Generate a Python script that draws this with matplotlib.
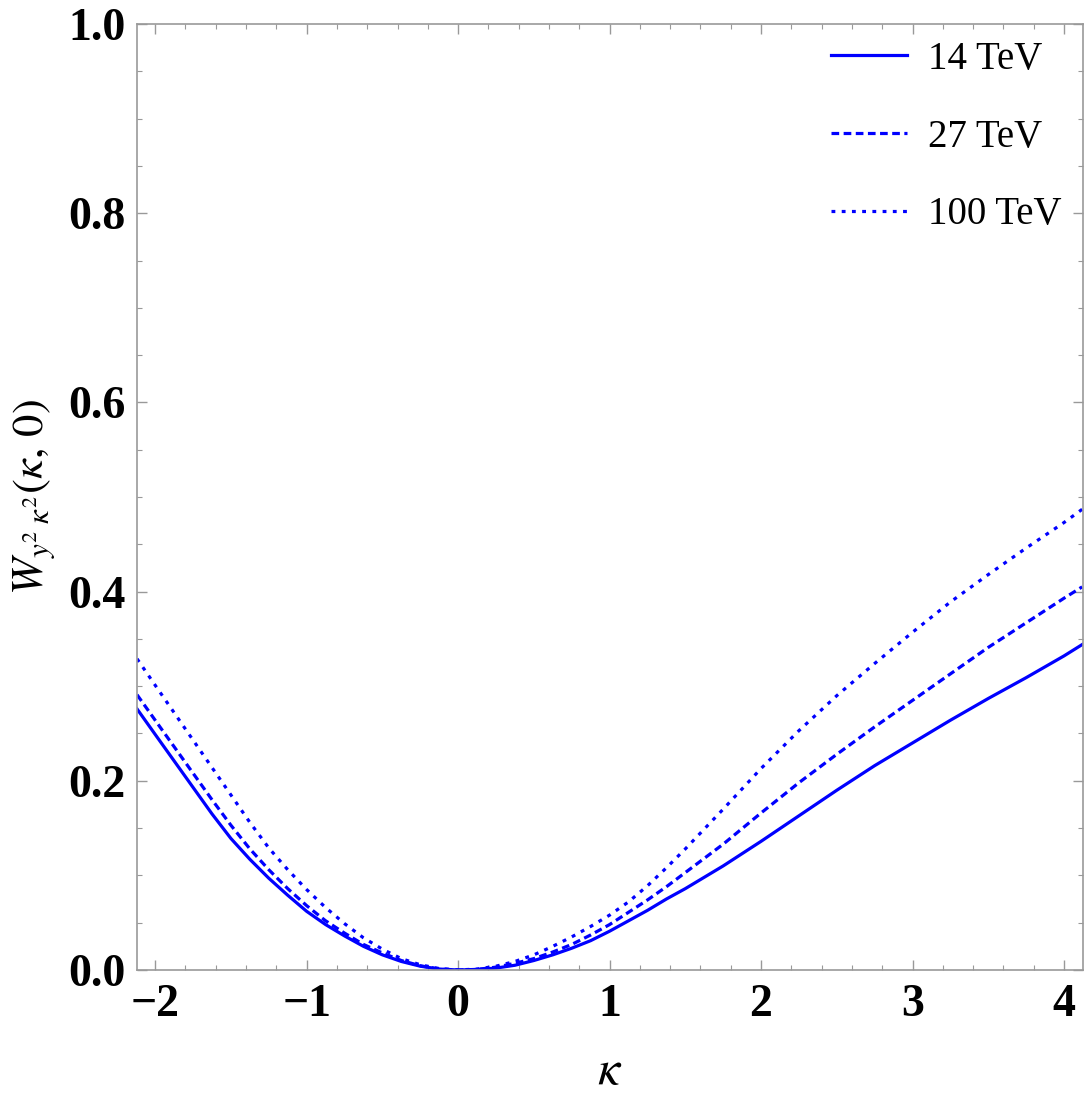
import numpy as np
import matplotlib
matplotlib.use("Agg")
import matplotlib.pyplot as plt
from matplotlib.ticker import MultipleLocator, FormatStrFormatter

plt.rcParams['font.family'] = ['Liberation Serif', 'DejaVu Serif']
plt.rcParams['mathtext.fontset'] = 'stix'

# values
kappa = [-2.12, -2.0, -1.875, -1.75, -1.625, -1.5, -1.375, -1.25, -1.125, -1.0,
         -0.875, -0.75, -0.625, -0.5, -0.375, -0.25, -0.125, 0.0,
         0.125, 0.25, 0.375, 0.5, 0.625, 0.75, 0.875, 1.0, 1.125, 1.25, 1.375,
         1.5, 1.625, 1.75, 2.0, 2.25, 2.5, 2.75, 3.0, 3.25, 3.5, 3.75, 4.0, 4.12]
w_14 = [0.276, 0.249, 0.221, 0.193, 0.165, 0.139, 0.117, 0.097, 0.079, 0.062,
        0.048, 0.036, 0.025, 0.016, 0.009, 0.004, 0.001, 0.0,
        0.0005, 0.002, 0.005, 0.010, 0.016, 0.023, 0.031, 0.041, 0.052, 0.063, 0.075,
        0.086, 0.098, 0.110, 0.136, 0.163, 0.190, 0.216, 0.240, 0.264, 0.287, 0.309, 0.332, 0.344]
w_27 = [0.291, 0.264, 0.236, 0.208, 0.180, 0.153, 0.128, 0.106, 0.086, 0.068,
        0.052, 0.039, 0.027, 0.018, 0.010, 0.0045, 0.001, 0.0,
        0.0006, 0.003, 0.007, 0.012, 0.019, 0.027, 0.037, 0.048, 0.061, 0.074, 0.088,
        0.103, 0.118, 0.133, 0.166, 0.198, 0.228, 0.257, 0.285, 0.313, 0.341, 0.367, 0.393, 0.405]
w_100 = [0.329, 0.301, 0.272, 0.243, 0.214, 0.185, 0.156, 0.129, 0.106, 0.085,
         0.066, 0.049, 0.034, 0.022, 0.012, 0.0055, 0.0015, 0.0,
         0.001, 0.004, 0.009, 0.016, 0.025, 0.035, 0.046, 0.058, 0.072, 0.089, 0.108,
         0.128, 0.149, 0.170, 0.213, 0.253, 0.290, 0.324, 0.357, 0.389, 0.418, 0.446, 0.473, 0.487]
labels = ['14 TeV', '27 TeV', '100 TeV']

fig = plt.figure(figsize=(10.84, 11.03), dpi=100)
ax = fig.add_axes([0.1264, 0.1206, 0.8726, 0.8576])

lw = 2.3
ax.plot(kappa, w_14, color='blue', lw=lw, label=labels[0])
ax.plot(kappa, w_27, color='blue', lw=lw, dashes=(2.4, 1.4), label=labels[1])
ax.plot(kappa, w_100, color='blue', lw=lw, dashes=(1.2, 2.0), label=labels[2])

ax.set_xlim(-2.12, 4.125)
ax.set_ylim(0, 1.0)

ax.xaxis.set_major_locator(MultipleLocator(1))
ax.xaxis.set_minor_locator(MultipleLocator(0.2))
ax.yaxis.set_major_locator(MultipleLocator(0.2))
ax.yaxis.set_minor_locator(MultipleLocator(0.05))
ax.yaxis.set_major_formatter(FormatStrFormatter('%.1f'))

for s in ax.spines.values():
    s.set_color('#999999')
    s.set_linewidth(1.2)

ax.tick_params(which='both', direction='in', top=True, right=True, color='#999999')
ax.tick_params(which='major', length=7, width=1.0)
ax.tick_params(which='minor', length=3.5, width=0.8)
ax.tick_params(axis='y', which='major', pad=8)
ax.tick_params(axis='x', which='major', pad=10)
for t in ax.get_xticklabels() + ax.get_yticklabels():
    t.set_fontsize(33)
    t.set_fontweight('bold')

ax.set_xlabel(r'$\kappa$', fontsize=36, labelpad=16)
ax.set_ylabel(r'$W_{y^{2}\;\kappa^{2}}(\kappa,\,0)$', fontsize=32, labelpad=8)

ax.legend(loc='upper right', bbox_to_anchor=(1.0, 1.005), frameon=False,
          fontsize=28, handlelength=1.95, handletextpad=0.55, labelspacing=1.05,
          borderaxespad=0.15)

fig.savefig('out.png', dpi=100)
